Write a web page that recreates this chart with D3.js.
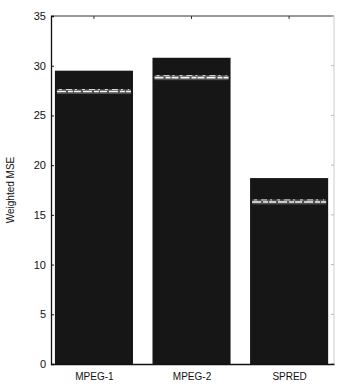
<!DOCTYPE html>
<html><head><meta charset="utf-8">
<script src="https://cdn.jsdelivr.net/npm/d3@7"></script>
<style>body{margin:0;background:#fff}text{font-family:"Liberation Sans",Arial,sans-serif}</style>
</head><body><svg id="c" width="338" height="390"></svg>
<script>
const categories = ["MPEG-1","MPEG-2","SPRED"];
const values = [29.5, 30.8, 18.7];
const bandLevel = [27.4, 28.8, 16.3];
const yTicks = [0,5,10,15,20,25,30,35];

const svg = d3.select("#c");
const L=51, R=334, T=16, B=364;
const x = d3.scaleLinear().domain([0.56,3.46]).range([L,R]);
const y = d3.scaleLinear().domain([0,35]).range([B,T]);
const bw = (x(2)-x(1))*0.8;

// frame
svg.append("line").attr("x1",L).attr("x2",R).attr("y1",T).attr("y2",T).attr("stroke","#333").attr("stroke-width",1.2);
svg.append("line").attr("x1",R).attr("x2",R).attr("y1",T).attr("y2",B).attr("stroke","#ccc").attr("stroke-width",1);

const g = svg.append("g");
g.selectAll("rect.bar").data(values).join("rect").attr("class","bar")
 .attr("x",(d,i)=>x(i+1)-bw/2).attr("width",bw)
 .attr("y",d=>y(d)).attr("height",d=>B-y(d))
 .attr("fill","#161616");

// light noisy band inside bars
g.selectAll("rect.band").data(bandLevel).join("rect").attr("class","band")
 .attr("x",(d,i)=>x(i+1)-bw/2+2).attr("width",bw-4)
 .attr("y",d=>y(d)-2.5).attr("height",5).attr("fill","#777").attr("opacity",0.6);
g.selectAll("line.band").data(bandLevel).join("line").attr("class","band")
 .attr("x1",(d,i)=>x(i+1)-bw/2+2).attr("x2",(d,i)=>x(i+1)+bw/2-2)
 .attr("y1",d=>y(d)).attr("y2",d=>y(d))
 .attr("stroke","#f4f4f4").attr("stroke-width",1.6).attr("stroke-dasharray","9,2,5,1,7,2");
g.selectAll("line.band2").data(bandLevel).join("line").attr("class","band2")
 .attr("x1",(d,i)=>x(i+1)-bw/2+4).attr("x2",(d,i)=>x(i+1)+bw/2-4)
 .attr("y1",d=>y(d)-2).attr("y2",d=>y(d)-2)
 .attr("stroke","#e0e0e0").attr("stroke-width",1).attr("stroke-dasharray","3,4,6,3,2,5");

// left axis
const ya = d3.axisLeft(y).tickValues(yTicks).tickSize(-3).tickPadding(5).tickFormat(d3.format("d"));
const yg = svg.append("g").attr("transform",`translate(${L},0)`).call(ya);
yg.select(".domain").attr("stroke","#111").attr("stroke-width",1.3);
yg.selectAll(".tick line").attr("stroke","#111");
yg.selectAll("text").attr("font-size",11).attr("fill","#111");
// right ticks
svg.append("g").selectAll("line").data(yTicks).join("line")
 .attr("x1",R).attr("x2",R-3).attr("y1",d=>y(d)).attr("y2",d=>y(d)).attr("stroke","#bbb");

// bottom axis
const xa = d3.axisBottom(x).tickValues([1,2,3]).tickSize(0).tickPadding(9).tickFormat(d=>categories[d-1]);
const xg = svg.append("g").attr("transform",`translate(0,${B})`).call(xa);
xg.select(".domain").attr("stroke","#111").attr("stroke-width",1.4);
xg.selectAll("text").attr("font-size",10).attr("fill","#111");
// top ticks
svg.append("g").selectAll("line").data([1,2,3]).join("line")
 .attr("x1",d=>x(d)).attr("x2",d=>x(d)).attr("y1",T).attr("y2",T+3).attr("stroke","#333");

svg.append("text").attr("transform",`translate(14,${(T+B)/2}) rotate(-90)`)
 .attr("text-anchor","middle").attr("font-size",10).attr("fill","#111").text("Weighted MSE");
</script></body></html>
